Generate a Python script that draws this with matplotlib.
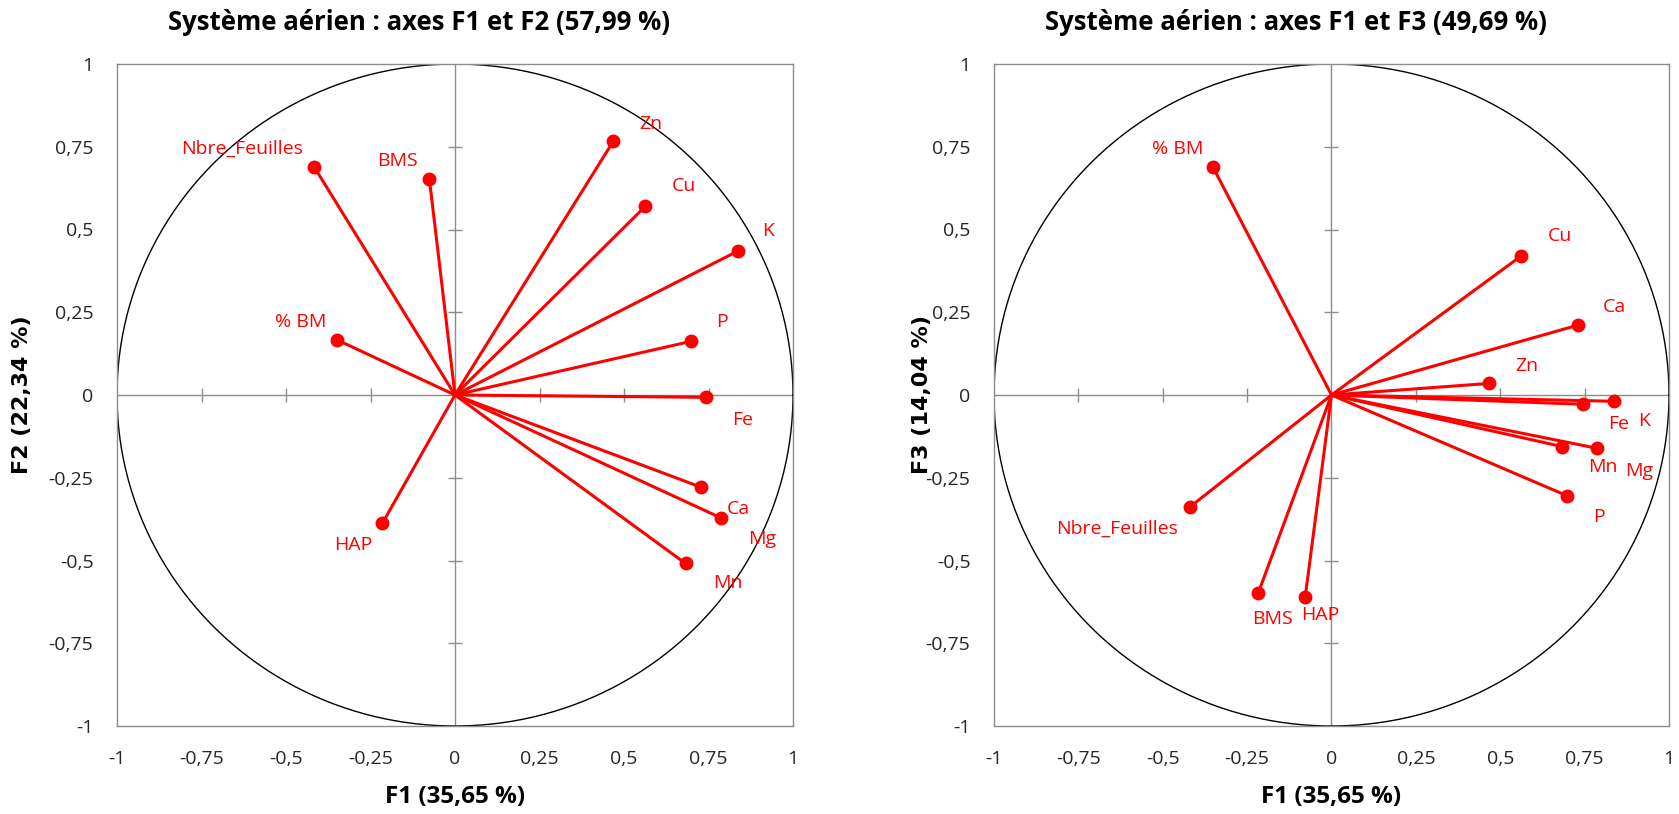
import numpy as np
import matplotlib
matplotlib.use("Agg")
import matplotlib.pyplot as plt
from matplotlib.ticker import FuncFormatter

# ---------------- data ----------------
variables = ['Nbre_Feuilles', 'BMS', '% BM', 'HAP', 'Zn', 'Cu', 'K', 'P', 'Fe', 'Ca', 'Mg', 'Mn']

# panel 1 : F1 x F2
p1_x = [-0.416, -0.076, -0.350, -0.215, 0.468, 0.563, 0.837, 0.698, 0.744, 0.729, 0.786, 0.682]
p1_y = [0.688, 0.654, 0.167, -0.388, 0.766, 0.570, 0.435, 0.162, -0.007, -0.279, -0.371, -0.509]

# panel 2 : F1 x F3
p2_x = [-0.419, -0.217, -0.351, -0.078, 0.468, 0.562, 0.837, 0.697, 0.746, 0.730, 0.787, 0.684]
p2_y = [-0.338, -0.598, 0.688, -0.611, 0.035, 0.420, -0.019, -0.304, -0.028, 0.211, -0.161, -0.156]

titles = ['Système aérien : axes F1 et F2 (57,99 %)', 'Système aérien : axes F1 et F3 (49,69 %)']
xlabels = ['F1 (35,65 %)', 'F1 (35,65 %)']
ylabels = ['F2 (22,34 %)', 'F3 (14,04 %)']
ticks = [-1, -0.75, -0.5, -0.25, 0, 0.25, 0.5, 0.75, 1]

# label offsets (style, in data units)
off1 = [(-0.214, 0.055), (-0.095, 0.054), (-0.106, 0.055), (-0.087, -0.065),
        (0.11, 0.053), (0.114, 0.06), (0.089, 0.06), (0.093, 0.06),
        (0.106, -0.069), (0.11, -0.066), (0.122, -0.065), (0.125, -0.059)]
off2 = [(-0.216, -0.065), (0.042, -0.079), (-0.106, 0.056), (0.046, -0.053),
        (0.11, 0.053), (0.116, 0.06), (0.09, -0.059), (0.095, -0.064),
        (0.106, -0.06), (0.108, 0.056), (0.124, -0.068), (0.121, -0.063)]

NARROW = ['Open Sans', 'DejaVu Sans']
RED = '#ff0000'

def fmt(v, pos=None):
    if abs(v - round(v)) < 1e-9:
        return '%d' % round(v)
    s = ('%.2f' % v).rstrip('0')
    return s.replace('.', ',')

fig = plt.figure(figsize=(16.79, 8.14), dpi=100)
W, H = 1679, 814
axes_px = [(117, 64, 676, 662), (994, 64, 675, 662)]
title_pos = [(419, 23), (1296, 23)]
ylab_x = [22, 922]

for i, (xs, ys, offs) in enumerate([(p1_x, p1_y, off1), (p2_x, p2_y, off2)]):
    l, t, w, h = axes_px[i]
    ax = fig.add_axes([l / W, (H - t - h) / H, w / W, h / H])
    ax.set_xlim(-1, 1)
    ax.set_ylim(-1, 1)
    for s in ax.spines.values():
        s.set_color('#8c8c8c')
        s.set_linewidth(1.0)
    ax.set_xticks(ticks)
    ax.set_yticks(ticks)
    ax.xaxis.set_major_formatter(FuncFormatter(fmt))
    ax.yaxis.set_major_formatter(FuncFormatter(fmt))
    ax.tick_params(length=0, pad=17, labelsize=14, colors='#262626')
    for lab in ax.get_xticklabels() + ax.get_yticklabels():
        lab.set_family(NARROW)
    # centre axes
    ax.axhline(0, color='#8c8c8c', lw=1.0, zorder=1)
    ax.axvline(0, color='#8c8c8c', lw=1.0, zorder=1)
    inner = [v for v in ticks if v not in (-1, 0, 1)]
    ax.plot([0] * len(inner), inner, ls='none', marker='_', ms=10, mew=1.0, color='#8c8c8c', zorder=1)
    ax.plot(inner, [0] * len(inner), ls='none', marker='|', ms=10, mew=1.0, color='#8c8c8c', zorder=1)
    # correlation circle
    th = np.linspace(0, 2 * np.pi, 400)
    ax.plot(np.cos(th), np.sin(th), color='black', lw=1.0, zorder=2)
    # vectors
    for x, y, name, (dx, dy) in zip(xs, ys, variables, offs):
        ax.plot([0, x], [0, y], color=RED, lw=2.2, zorder=3, solid_capstyle='round')
        ax.plot([x], [y], 'o', color=RED, ms=9, zorder=4)
        ax.text(x + dx, y + dy, name, color=RED, fontsize=14, family=NARROW,
                ha='center', va='center', zorder=5)
    fig.text(title_pos[i][0] / W, 1 - title_pos[i][1] / H, titles[i], ha='center', va='center',
             fontsize=18.5, fontweight='bold', family=NARROW, color='black')
    fig.text((l + w / 2) / W, 1 - 797 / H, xlabels[i], ha='center', va='center',
             fontsize=17.5, fontweight='bold', family=NARROW, color='black')
    fig.text(ylab_x[i] / W, 1 - 395 / H, ylabels[i], ha='center', va='center', rotation=90,
             fontsize=16, fontweight='bold', family=['DejaVu Sans'], color='black')

fig.savefig('out.png', dpi=100)
